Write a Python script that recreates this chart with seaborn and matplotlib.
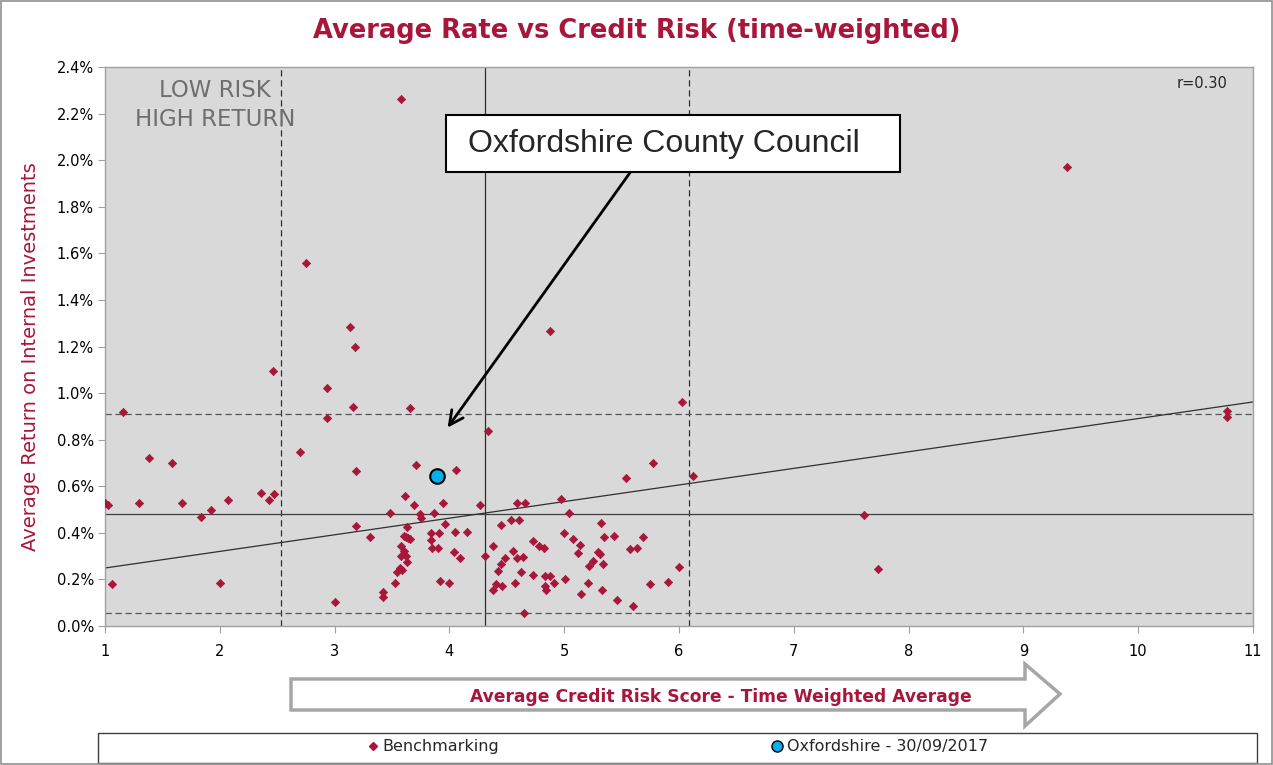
import numpy as np
import pandas as pd
import seaborn as sns
import matplotlib.pyplot as plt
from matplotlib.lines import Line2D
from matplotlib.patches import Rectangle, Polygon
from matplotlib.ticker import FuncFormatter

sns.set_theme(style="ticks")
plt.rcParams['font.family'] = ['DejaVu Sans']

# benchmarking points: credit risk score vs average return (%)
credit = [1.00, 1.03, 1.06, 1.16, 1.30, 1.38, 1.58, 1.67, 1.84, 1.92, 2.00, 2.07, 2.36, 2.43, 2.47,
          2.46, 2.70, 2.75, 2.93, 2.93, 3.00, 3.13, 3.16, 3.18, 3.19, 3.19, 3.31, 3.42, 3.42, 3.48,
          3.58, 3.66, 3.71, 4.06, 3.61, 3.69, 3.94, 4.27, 3.74, 3.75, 3.87, 3.96, 3.63, 3.60, 3.62,
          3.64, 3.66, 3.84, 3.91, 4.05, 4.15, 3.84, 3.58, 3.60, 3.85, 3.90, 4.04, 4.09, 4.31, 4.38,
          3.58, 3.62, 3.63, 3.57, 3.54, 3.59, 3.53, 3.92, 4.00, 4.59, 4.66, 4.45, 4.54, 4.61, 4.48,
          4.45, 4.55, 4.59, 4.64, 4.42, 4.62, 4.41, 4.46, 4.57, 4.38, 4.65, 4.97, 5.04, 5.54, 5.77,
          6.12, 5.00, 5.32, 4.73, 5.08, 5.14, 4.78, 4.82, 5.12, 5.35, 5.43, 5.69, 5.29, 5.31, 5.57,
          5.63, 5.25, 5.22, 5.34, 4.73, 4.83, 4.88, 6.00, 4.83, 4.84, 4.91, 5.01, 5.21, 5.15, 5.33,
          5.75, 5.90, 5.46, 5.60, 4.34, 4.88, 6.03, 7.61, 7.73, 9.38, 10.77, 10.77]
ret = [0.528, 0.520, 0.180, 0.920, 0.528, 0.720, 0.700, 0.530, 0.470, 0.500, 0.183, 0.540, 0.572, 0.540, 0.565,
       1.096, 0.748, 1.557, 1.020, 0.894, 0.104, 1.285, 0.940, 1.197, 0.665, 0.430, 0.380, 0.145, 0.123, 0.487,
       2.264, 0.935, 0.690, 0.670, 0.558, 0.520, 0.530, 0.520, 0.480, 0.465, 0.487, 0.440, 0.424, 0.385, 0.382,
       0.378, 0.375, 0.400, 0.400, 0.405, 0.405, 0.370, 0.343, 0.320, 0.333, 0.333, 0.316, 0.290, 0.300, 0.343,
       0.300, 0.300, 0.276, 0.250, 0.230, 0.240, 0.186, 0.195, 0.186, 0.530, 0.530, 0.435, 0.454, 0.454, 0.293,
       0.266, 0.322, 0.290, 0.298, 0.237, 0.233, 0.180, 0.173, 0.186, 0.153, 0.057, 0.545, 0.487, 0.635, 0.700,
       0.645, 0.400, 0.443, 0.366, 0.372, 0.349, 0.345, 0.333, 0.312, 0.380, 0.385, 0.380, 0.316, 0.310, 0.332,
       0.335, 0.278, 0.259, 0.267, 0.218, 0.215, 0.215, 0.253, 0.172, 0.153, 0.186, 0.200, 0.183, 0.137, 0.155,
       0.180, 0.190, 0.110, 0.086, 0.837, 1.268, 0.962, 0.477, 0.243, 1.970, 0.923, 0.899]

oxon_credit = [3.89]
oxon_ret = [0.644]

# mean and +/- 1 sd guide lines, trend line
x_lines = [2.53, 4.31, 6.09]
y_lines = [0.056, 0.481, 0.910]
trend_x = [1, 11]
trend_y = [0.249, 0.962]

red = '#A8163C'
bench = pd.DataFrame({'credit': credit, 'ret': ret})
oxon = pd.DataFrame({'credit': oxon_credit, 'ret': oxon_ret})

fig = plt.figure(figsize=(12.73, 7.65), dpi=100)
fig.patch.set_facecolor('white')
ax = fig.add_axes([0.0825, 0.1817, 0.9018, 0.7307])
ax.set_facecolor('#d9d9d9')

for i, xv in enumerate(x_lines):
    ax.axvline(xv, color='#303030', lw=0.9, ls='-' if i == 1 else (0, (5, 3)), zorder=1)
for i, yv in enumerate(y_lines):
    ax.axhline(yv, color='#404040' if i == 1 else '#555555', lw=0.9, ls='-' if i == 1 else (0, (5, 3)), zorder=1)
ax.plot(trend_x, trend_y, color='#303030', lw=0.9, zorder=1)

sns.scatterplot(data=bench, x='credit', y='ret', marker='D', s=18, color=red,
                edgecolor=red, linewidth=0.5, legend=False, ax=ax, zorder=3)
sns.scatterplot(data=oxon, x='credit', y='ret', marker='o', s=110, color='#00B0F0',
                edgecolor='black', linewidth=1.5, legend=False, ax=ax, zorder=4)

ax.set_xlim(1, 11)
ax.set_ylim(0, 2.4)
ax.set_xticks(range(1, 12))
ax.set_yticks(np.arange(0, 2.41, 0.2))
ax.yaxis.set_major_formatter(FuncFormatter(lambda v, p: f"{v:.1f}%"))
ax.tick_params(axis='both', labelsize=10.5, colors='#a0a0a0', labelcolor='black', length=5, width=0.8)
ax.tick_params(axis='x', pad=8)
ax.tick_params(axis='y', pad=3)
for s in ax.spines.values():
    s.set_visible(True)
    s.set_color('#a0a0a0')
    s.set_linewidth(1)
ax.set_xlabel('')
ax.set_ylabel('Average Return on Internal Investments', color=red, fontsize=14)
ax.yaxis.set_label_coords(-0.057, 0.482)

fig.text(0.5, 0.96, 'Average Rate vs Credit Risk (time-weighted)', color=red,
         fontsize=18.5, fontweight='bold', ha='center', va='center')

ax.text(0.096, 0.932, 'LOW RISK\nHIGH RETURN', transform=ax.transAxes, color='#6e6e6e',
        fontsize=16.5, ha='center', va='center', linespacing=1.35)
ax.text(0.956, 0.97, 'r=0.30', transform=ax.transAxes, fontsize=10.5, ha='center', va='center')

# callout box and arrow
ax.add_patch(Rectangle((0.297, 0.812), 0.3955, 0.102, transform=ax.transAxes,
                       facecolor='white', edgecolor='black', lw=1.5, zorder=5))
ax.text(0.316, 0.863, 'Oxfordshire County Council', transform=ax.transAxes,
        family='Liberation Sans', fontsize=23, ha='left', va='center', zorder=6)
ax.annotate('', xy=(3.97, 0.842), xytext=(5.59, 1.958),
            arrowprops=dict(arrowstyle='->', color='black', lw=2, mutation_scale=25), zorder=6)

# block arrow under the x axis
W, H = 1273.0, 765.0
pts = [(291, 679), (1025, 679), (1025, 664), (1060, 694), (1025, 726), (1025, 710), (291, 710)]
fig.patches.append(Polygon([(px / W, 1 - py / H) for px, py in pts], closed=True,
                           transform=fig.transFigure, facecolor='white',
                           edgecolor='#a6a6a6', lw=2.5))
fig.text(721 / W, 1 - 697 / H, 'Average Credit Risk Score - Time Weighted Average', color=red,
         fontsize=12.3, fontweight='bold', ha='center', va='center')

# legend box
fig.patches.append(Rectangle((98 / W, 1 - 763 / H), 1159 / W, 30 / H, transform=fig.transFigure,
                             facecolor='white', edgecolor='#404040', lw=1))
handles = [Line2D([], [], marker='D', ls='', color=red, markersize=4.5),
           Line2D([], [], marker='o', ls='', markerfacecolor='#00B0F0', markeredgecolor='black',
                  markersize=8)]
fig.legend(handles, ['Benchmarking', 'Oxfordshire - 30/09/2017'], loc='center',
           bbox_to_anchor=(677 / W, 1 - 747 / H), ncol=2, frameon=False, fontsize=11.5,
           handlelength=0.8, handletextpad=0.2, columnspacing=17)

# outer frame
fig.patches.append(Rectangle((0.001, 0.001), 0.998, 0.998, transform=fig.transFigure,
                             fill=False, edgecolor='#909090', lw=1.2))

fig.savefig('out.png', dpi=100)
